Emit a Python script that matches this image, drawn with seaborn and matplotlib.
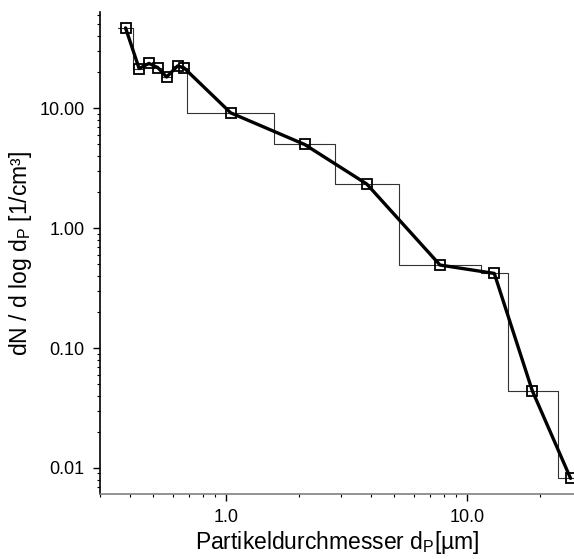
import numpy as np
import matplotlib
matplotlib.use("Agg")
import matplotlib.pyplot as plt
import matplotlib.ticker as mticker
import seaborn as sns

# particle size distribution
diameter = [0.383, 0.436, 0.479, 0.521, 0.567, 0.630, 0.669,
            1.046, 2.12, 3.84, 7.73, 12.98, 18.66, 26.9]
dN_dlogdp = [46.7, 21.4, 23.6, 21.8, 18.2, 22.5, 21.7,
             9.14, 4.98, 2.33, 0.492, 0.419, 0.0441, 0.0082]

# channel boundaries of the counter (step curve)
bin_edges = [0.356, 0.411, 0.457, 0.498, 0.543, 0.597, 0.650, 0.689,
             1.58, 2.83, 5.22, 11.4, 14.8, 23.9, 35.6]

x_ticks = [1.0, 10.0]
x_tick_labels = ["1.0", "10.0"]
y_ticks = [0.01, 0.1, 1.0, 10.0]
y_tick_labels = ["0.01", "0.10", "1.00", "10.00"]

sns.set_style("ticks")
plt.rcParams["font.family"] = ["Liberation Sans", "DejaVu Sans"]
plt.rcParams["mathtext.default"] = "regular"
plt.rcParams["text.color"] = "black"
plt.rcParams["axes.labelcolor"] = "black"
plt.rcParams["xtick.color"] = "black"
plt.rcParams["ytick.color"] = "black"

fig = plt.figure(figsize=(5.74, 5.59), dpi=100)
ax = fig.add_axes([0.1742, 0.1163, 0.8258, 0.8617])

step_y = dN_dlogdp + [dN_dlogdp[-1]]
sns.lineplot(x=bin_edges, y=step_y, drawstyle="steps-post", color="#333333",
             linewidth=0.8, sort=False, ax=ax)
sns.lineplot(x=diameter, y=dN_dlogdp, color="black", linewidth=2.4, sort=False,
             marker="s", markersize=6.5, markerfacecolor="none",
             markeredgecolor="black", markeredgewidth=1.3, ax=ax)

ax.set_xscale("log")
ax.set_yscale("log")
ax.set_xlim(0.300, 27.8)
ax.set_ylim(0.00607, 63)

ax.xaxis.set_major_locator(mticker.FixedLocator(x_ticks))
ax.xaxis.set_major_formatter(mticker.FixedFormatter(x_tick_labels))
ax.xaxis.set_minor_locator(mticker.LogLocator(base=10, subs=np.arange(2, 10)))
ax.xaxis.set_minor_formatter(mticker.NullFormatter())
ax.yaxis.set_major_locator(mticker.FixedLocator(y_ticks))
ax.yaxis.set_major_formatter(mticker.FixedFormatter(y_tick_labels))
ax.yaxis.set_minor_locator(mticker.LogLocator(base=10, subs=np.arange(2, 10)))
ax.yaxis.set_minor_formatter(mticker.NullFormatter())

ax.tick_params(which="major", length=5, width=1, labelsize=13, pad=6,
               color="black", labelcolor="black")
ax.tick_params(which="minor", length=2.5, width=0.8, color="black")

sns.despine(ax=ax)
ax.spines["left"].set_color("black")
ax.spines["left"].set_linewidth(1.2)
ax.spines["bottom"].set_color("#808080")
ax.spines["bottom"].set_linewidth(1.2)

ax.set_xlabel("Partikeldurchmesser d$_{P}$[µm]", fontsize=16.5, labelpad=2)
ax.set_ylabel("dN / d log d$_{P}$ [1/cm³]", fontsize=16.5, labelpad=4)

fig.savefig("out.png", dpi=100)
